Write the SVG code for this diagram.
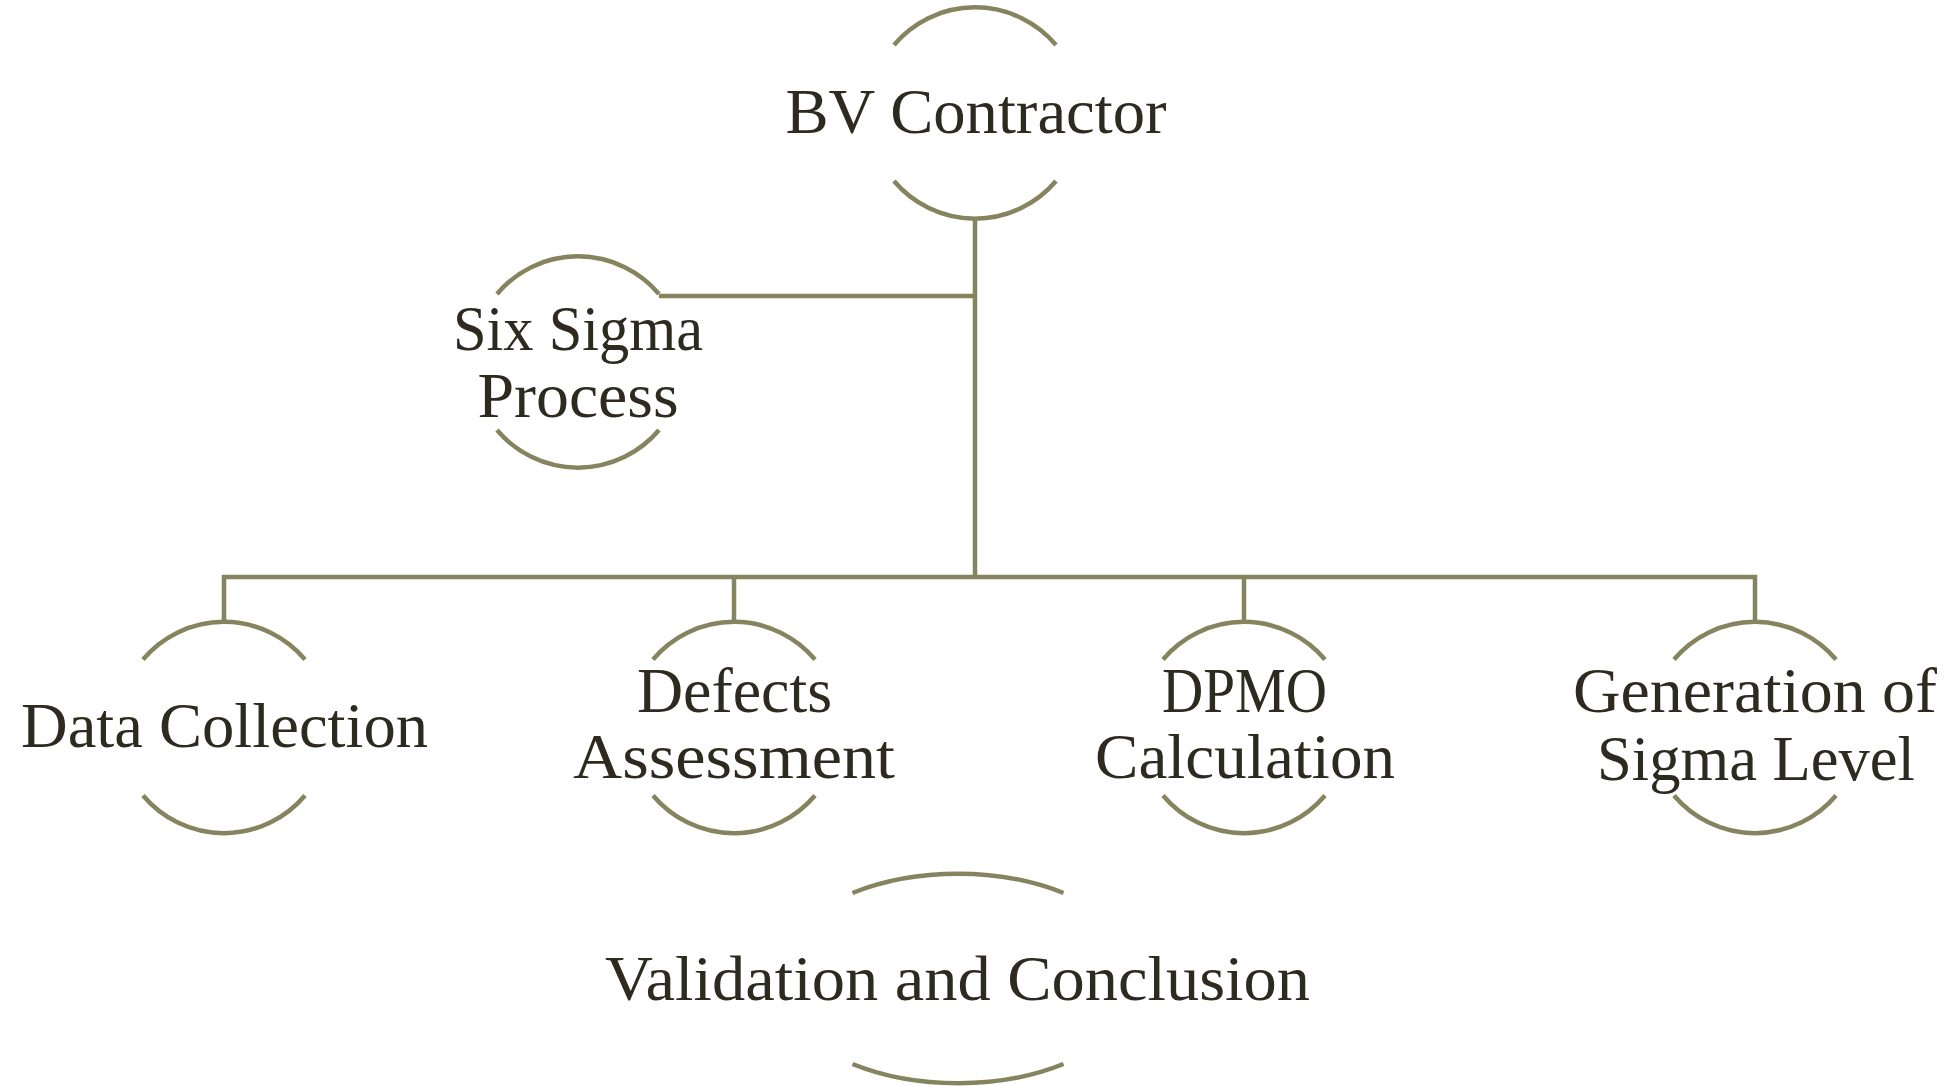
<svg xmlns="http://www.w3.org/2000/svg" width="1951" height="1086" viewBox="0 0 1951 1086">
<style>
.arc{fill:none;stroke:#86845f;stroke-width:4.5;stroke-linecap:butt}
.conn{fill:none;stroke:#86845f;stroke-width:4.5;stroke-linejoin:miter;stroke-linecap:butt}
.lbl{font-family:"Liberation Serif","Times New Roman",serif;font-size:64px;fill:#2e2a1f;text-anchor:middle}
</style>
<rect width="1951" height="1086" fill="#ffffff"/>
<g id="connectors">
<path class="conn" d="M975,218 V577"/>
<path class="conn" d="M659,296 H975"/>
<path class="conn" d="M224,622 V577 H1755 V622"/>
<path class="conn" d="M734,577 V622"/>
<path class="conn" d="M1244,577 V622"/>
</g>
<g id="node-bv">
<path class="arc" d="M894,45 A106,106 0 0 1 1056,45"/>
<path class="arc" d="M894,181 A106,106 0 0 0 1056,181"/>
<text class="lbl" x="976" y="133" textLength="381" lengthAdjust="spacingAndGlyphs">BV Contractor</text>
</g>
<g id="node-sixsigma">
<path class="arc" d="M497,294 A106,106 0 0 1 659,294"/>
<path class="arc" d="M497,430 A106,106 0 0 0 659,430"/>
<text class="lbl" x="578" y="350" textLength="250" lengthAdjust="spacingAndGlyphs">Six Sigma</text>
<text class="lbl" x="578" y="417" textLength="201" lengthAdjust="spacingAndGlyphs">Process</text>
</g>
<g id="node-data">
<path class="arc" d="M143,659.5 A106,106 0 0 1 305,659.5"/>
<path class="arc" d="M143,795.5 A106,106 0 0 0 305,795.5"/>
<text class="lbl" x="224.5" y="747" textLength="407" lengthAdjust="spacingAndGlyphs">Data Collection</text>
</g>
<g id="node-defects">
<path class="arc" d="M653,659.5 A106,106 0 0 1 815,659.5"/>
<path class="arc" d="M653,795.5 A106,106 0 0 0 815,795.5"/>
<text class="lbl" x="734.5" y="712" textLength="195" lengthAdjust="spacingAndGlyphs">Defects</text>
<text class="lbl" x="734" y="778" textLength="322" lengthAdjust="spacingAndGlyphs">Assessment</text>
</g>
<g id="node-dpmo">
<path class="arc" d="M1163,659.5 A106,106 0 0 1 1325,659.5"/>
<path class="arc" d="M1163,795.5 A106,106 0 0 0 1325,795.5"/>
<text class="lbl" x="1244.5" y="712" textLength="165" lengthAdjust="spacingAndGlyphs">DPMO</text>
<text class="lbl" x="1245" y="778" textLength="300" lengthAdjust="spacingAndGlyphs">Calculation</text>
</g>
<g id="node-sigma">
<path class="arc" d="M1674,659.5 A106,106 0 0 1 1836,659.5"/>
<path class="arc" d="M1674,795.5 A106,106 0 0 0 1836,795.5"/>
<text class="lbl" x="1755" y="712" textLength="364" lengthAdjust="spacingAndGlyphs">Generation of</text>
<text class="lbl" x="1756" y="780" textLength="318" lengthAdjust="spacingAndGlyphs">Sigma Level</text>
</g>
<g id="node-validation">
<path class="arc" d="M852.5,893 A183,105 0 0 1 1063.5,893"/>
<path class="arc" d="M852.5,1064 A183,105 0 0 0 1063.5,1064"/>
<text class="lbl" x="957.5" y="1000" textLength="705" lengthAdjust="spacingAndGlyphs">Validation and Conclusion</text>
</g>
</svg>
